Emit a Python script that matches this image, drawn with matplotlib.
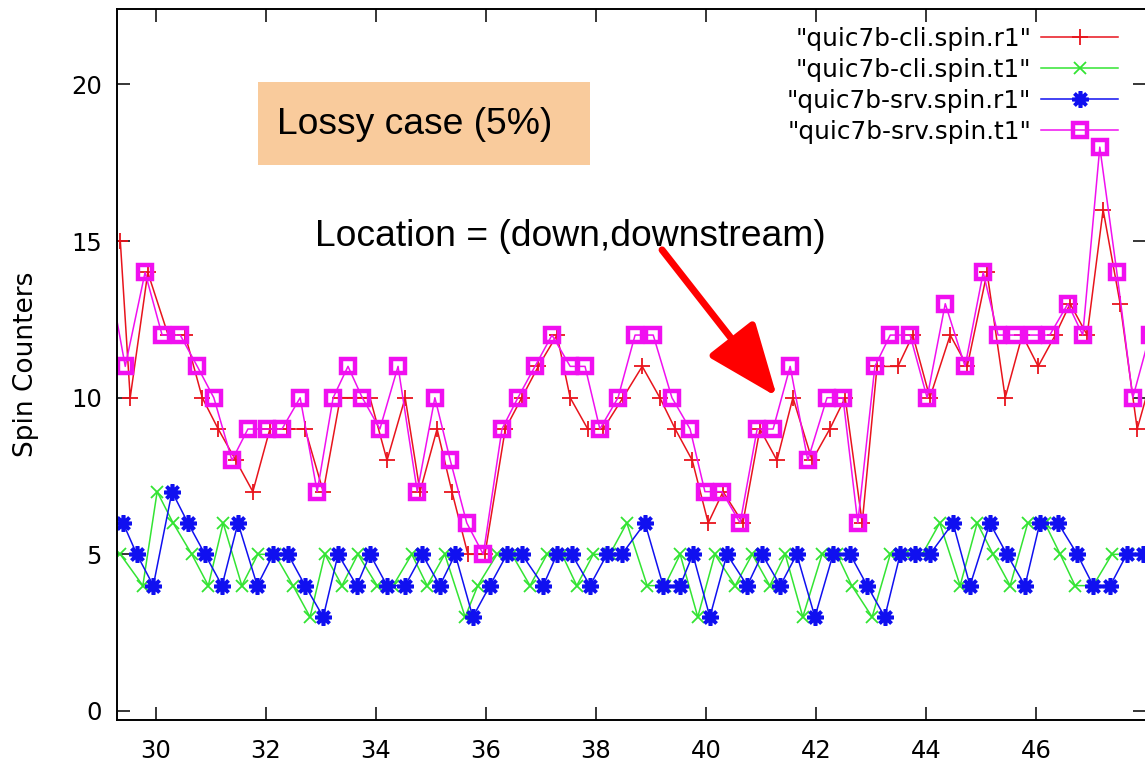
import matplotlib
matplotlib.use("Agg")
import matplotlib.pyplot as plt
from matplotlib.patches import Rectangle

# client side receive counter (red)
cli_r1_x = [29.35, 29.53, 29.85, 30.22, 30.53, 30.84, 31.13, 31.45, 31.76, 32.07,
            32.38, 32.71, 33.04, 33.35, 33.62, 33.89, 34.20, 34.53, 34.80, 35.11,
            35.38, 35.67, 35.98, 36.35, 36.65, 36.95, 37.29, 37.53, 37.85, 38.13,
            38.49, 38.84, 39.16, 39.44, 39.75, 40.04, 40.31, 40.67, 40.98, 41.29,
            41.58, 41.93, 42.25, 42.53, 42.84, 43.11, 43.49, 43.76, 44.07, 44.44,
            44.75, 45.11, 45.44, 45.75, 46.04, 46.35, 46.62, 46.93, 47.22, 47.53,
            47.84, 48.16]
cli_r1_y = [15, 10, 14, 12, 12, 10, 9, 8, 7, 9,
            9, 9, 7, 10, 10, 10, 8, 10, 7, 9,
            7, 5, 5, 9, 10, 11, 12, 10, 9, 9,
            10, 11, 10, 9, 8, 6, 7, 6, 9, 8,
            10, 8, 9, 10, 6, 11, 11, 12, 10, 12,
            11, 14, 10, 12, 11, 12, 13, 12, 16, 13,
            9, 11]

# client side transmit counter (green)
cli_t1_x = [29.35, 29.76, 30.02, 30.31, 30.65, 30.95, 31.22, 31.56, 31.85, 32.16,
            32.49, 32.80, 33.07, 33.38, 33.67, 34.02, 34.31, 34.65, 34.93, 35.25,
            35.62, 35.85, 36.20, 36.47, 36.80, 37.11, 37.38, 37.65, 37.95, 38.25,
            38.56, 38.93, 39.25, 39.53, 39.85, 40.16, 40.53, 40.84, 41.16, 41.44,
            41.76, 42.11, 42.38, 42.65, 43.02, 43.35, 43.62, 43.93, 44.25, 44.62,
            44.93, 45.22, 45.53, 45.85, 46.16, 46.44, 46.71, 47.04, 47.38, 47.67,
            47.98]
cli_t1_y = [5, 4, 7, 6, 5, 4, 6, 4, 5, 5,
            4, 3, 5, 4, 5, 4, 4, 5, 4, 5,
            3, 4, 5, 5, 4, 5, 5, 4, 5, 5,
            6, 4, 4, 5, 3, 5, 4, 5, 4, 5,
            3, 5, 5, 4, 3, 5, 5, 5, 6, 4,
            6, 5, 4, 6, 6, 5, 4, 4, 5, 5,
            5]

# server side receive counter (blue)
srv_r1_x = [29.40, 29.65, 29.95, 30.29, 30.58, 30.89, 31.20, 31.49, 31.84, 32.13,
            32.40, 32.71, 33.04, 33.31, 33.65, 33.89, 34.20, 34.53, 34.84, 35.16,
            35.44, 35.76, 36.07, 36.38, 36.65, 37.04, 37.29, 37.56, 37.89, 38.20,
            38.47, 38.89, 39.22, 39.53, 39.76, 40.07, 40.38, 40.75, 41.02, 41.35,
            41.65, 41.98, 42.31, 42.62, 42.93, 43.25, 43.53, 43.80, 44.07, 44.49,
            44.80, 45.16, 45.47, 45.80, 46.07, 46.40, 46.75, 47.04, 47.35, 47.65,
            47.95]
srv_r1_y = [6, 5, 4, 7, 6, 5, 4, 6, 4, 5,
            5, 4, 3, 5, 4, 5, 4, 4, 5, 4,
            5, 3, 4, 5, 5, 4, 5, 5, 4, 5,
            5, 6, 4, 4, 5, 3, 5, 4, 5, 4,
            5, 3, 5, 5, 4, 3, 5, 5, 5, 6,
            4, 6, 5, 4, 6, 6, 5, 4, 4, 5,
            5]

# server side transmit counter (magenta)
srv_t1_x = [29.13, 29.44, 29.80, 30.11, 30.44, 30.75, 31.05, 31.38, 31.67, 32.02,
            32.29, 32.62, 32.93, 33.22, 33.49, 33.75, 34.07, 34.40, 34.75, 35.07,
            35.35, 35.65, 35.95, 36.29, 36.58, 36.89, 37.20, 37.53, 37.80, 38.07,
            38.40, 38.71, 39.04, 39.38, 39.71, 39.98, 40.29, 40.62, 40.93, 41.22,
            41.53, 41.85, 42.20, 42.49, 42.76, 43.07, 43.35, 43.71, 44.02, 44.35,
            44.71, 45.04, 45.31, 45.62, 45.95, 46.25, 46.58, 46.85, 47.16, 47.47,
            47.76, 48.07]
srv_t1_y = [14, 11, 14, 12, 12, 11, 10, 8, 9, 9,
            9, 10, 7, 10, 11, 10, 9, 11, 7, 10,
            8, 6, 5, 9, 10, 11, 12, 11, 11, 9,
            10, 12, 12, 10, 9, 7, 7, 6, 9, 9,
            11, 8, 10, 10, 6, 11, 12, 12, 10, 13,
            11, 14, 12, 12, 12, 12, 13, 12, 18, 14,
            10, 12]

labels = ['"quic7b-cli.spin.r1"', '"quic7b-cli.spin.t1"',
          '"quic7b-srv.spin.r1"', '"quic7b-srv.spin.t1"']

W, H = 1145, 764
fig = plt.figure(figsize=(W / 100, H / 100), dpi=100)
ax = fig.add_axes([117 / W, 1 - 720 / H, 1029 / W, 711 / H])

ax.plot(cli_r1_x, cli_r1_y, color="#e8141c", lw=1.1, marker="+", ms=11, mew=1.3, label=labels[0])
ax.plot(cli_t1_x, cli_t1_y, color="#33e433", lw=1.1, marker="x", ms=8, mew=1.3, label=labels[1])
ax.plot(srv_r1_x, srv_r1_y, color="#1010f0", lw=1.1, marker=(8, 2, 0), ms=12, mew=2.6, label=labels[2])
ax.plot(srv_t1_x, srv_t1_y, color="#f010f0", lw=1.1, marker="s", ms=10, mew=3.2,
        mfc="none", label=labels[3])

ax.set_xlim(29.29, 48.0)
ax.set_ylim(-0.29, 22.41)
ax.set_xticks(range(30, 48, 2))
ax.set_yticks([0, 5, 10, 15, 20])
ax.tick_params(direction="in", length=9.5, width=1.1, top=True, right=True,
               labelsize=17.5, colors="black")
ax.tick_params(axis="x", pad=14)
ax.tick_params(axis="y", pad=11)
for s in ax.spines.values():
    s.set_linewidth(1.4)
ax.set_ylabel("Spin Counters", fontsize=19, labelpad=23)

ax.legend(loc="upper right", bbox_to_anchor=(1118 / W, 1 - 27 / H),
          bbox_transform=fig.transFigure, frameon=False, markerfirst=False,
          fontsize=17.8, handlelength=3.1, handletextpad=0.4, labelspacing=0.28,
          borderpad=0, borderaxespad=0)

# annotation box
fig.add_artist(Rectangle((258 / W, 1 - 165 / H), 332 / W, 83 / H,
                         transform=fig.transFigure, facecolor="#f9cb9c",
                         edgecolor="none", zorder=5))
fig.text(277 / W, 1 - 125 / H, "Lossy case (5%)", family="Liberation Sans",
         fontsize=26.8, va="center", ha="left", zorder=6)
fig.text(315 / W, 1 - 236 / H, "Location = (down,downstream)", family="Liberation Sans",
         fontsize=26.8, va="center", ha="left", zorder=6)

ax.annotate("", xy=(41.29, 10.03), xytext=(39.2, 14.72),
            arrowprops=dict(arrowstyle="-|>,head_length=0.45,head_width=0.18",
                            mutation_scale=100, lw=5, color="red",
                            shrinkA=0, shrinkB=0), zorder=7)

fig.savefig("out.png", dpi=100)
